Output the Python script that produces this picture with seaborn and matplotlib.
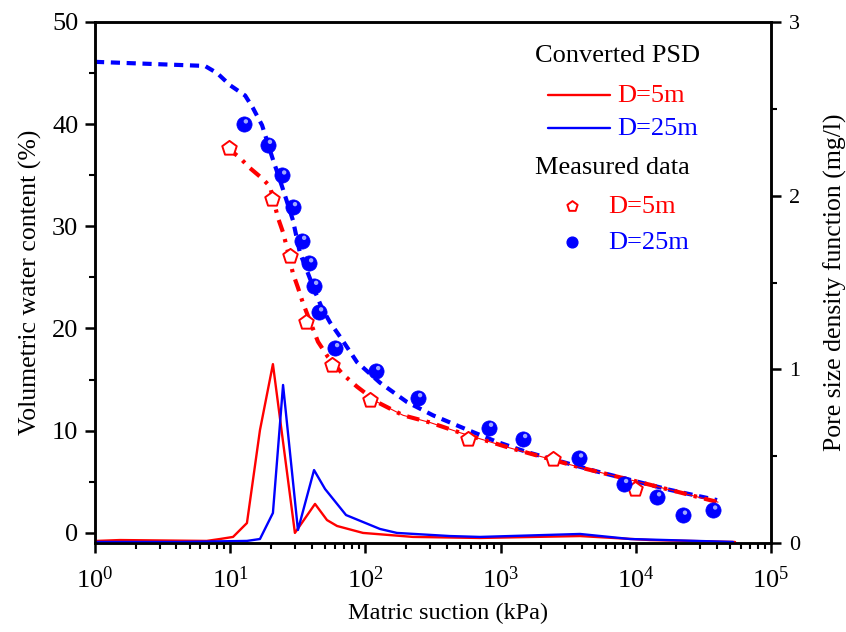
import numpy as np
import pandas as pd
import matplotlib
matplotlib.use("Agg")
import matplotlib.pyplot as plt
import matplotlib.transforms as mtransforms
from matplotlib.ticker import MultipleLocator, LogLocator, LogFormatterMathtext, NullFormatter
import seaborn as sns

# Measured soil-water characteristic data (suction in kPa, water content in %)
meas5_suction = [9.8, 20.4, 27.7, 36.3, 56.6, 108, 574, 2443, 9860]
meas5_wc = [37.7, 32.7, 27.1, 20.6, 16.4, 13.0, 9.2, 7.2, 4.3]

meas25_suction = [12.6, 19.0, 24.2, 29.1, 34.0, 38.3, 41.7, 45.4, 59.6, 120,
                  245, 820, 1466, 3800, 8180, 14350, 22300, 37300]
meas25_wc = [40.0, 38.0, 35.0, 31.9, 28.6, 26.4, 24.2, 21.6, 18.1, 15.85,
             13.2, 10.3, 9.2, 7.3, 4.8, 3.5, 1.7, 2.2]

# Fitted SWCC curves
fit25_suction = [1.0, 6.5, 8.0, 10.0, 12.9, 14.7, 17.2, 20.4, 24.6, 29.1, 32.8,
                 37.6, 42.4, 47.7, 54.7, 64.9, 86.7, 128, 203, 316, 564, 940,
                 1567, 5160, 17900, 39900]
fit25_wc = [46.1, 45.7, 45.0, 43.8, 42.8, 41.6, 39.9, 36.8, 33.6, 30.6, 27.4,
            25.4, 23.6, 22.0, 20.6, 19.2, 16.7, 14.7, 12.8, 11.5, 10.1, 8.9,
            7.9, 6.0, 4.2, 3.2]

fit5_suction = [9.5, 11.8, 14.0, 17.2, 19.7, 20.4, 22.6, 24.6, 26.3, 29.1, 31.7,
                34.5, 40.3, 44.6, 52.9, 68.3, 86.7, 122, 190, 300, 501, 1175,
                3866, 12740, 40550]
fit5_wc = [37.7, 36.7, 35.7, 34.7, 33.9, 33.1, 30.8, 29.4, 27.9, 25.4, 24.0,
           22.5, 20.2, 18.7, 17.2, 15.5, 14.3, 12.8, 11.5, 10.8, 9.8, 8.3,
           6.4, 4.7, 3.0]

# Converted pore size density functions (mg/l)
psd5_suction = [1.03, 1.53, 6.7, 8.4, 10.5, 13.3, 16.6, 20.7, 30.1, 42.4, 52,
                61.7, 96, 225, 704, 3866, 12740, 54200]
psd5_val = [0.012, 0.017, 0.012, 0.023, 0.035, 0.115, 0.65, 1.03, 0.058, 0.225,
            0.132, 0.098, 0.058, 0.035, 0.029, 0.040, 0.017, 0.006]

psd25_suction = [1.03, 4.25, 13.3, 16.6, 20.7, 24.6, 31.7, 41.7, 50.3, 71.9,
                 128, 171, 423, 704, 3866, 9060, 52400]
psd25_val = [0.006, 0.006, 0.012, 0.023, 0.173, 0.91, 0.075, 0.42, 0.311, 0.161,
             0.081, 0.058, 0.040, 0.035, 0.052, 0.023, 0.006]

RED = "#ff0000"
BLUE = "#0000ff"

sns.set_style("ticks")
plt.rcParams["font.family"] = ["Liberation Serif", "DejaVu Serif"]
plt.rcParams["mathtext.fontset"] = "stix"
plt.rcParams["axes.linewidth"] = 1.8
for key in ("text.color", "axes.labelcolor", "axes.edgecolor",
            "xtick.color", "ytick.color"):
    plt.rcParams[key] = "black"

fig = plt.figure(figsize=(8.46, 6.32), dpi=100)
ax = fig.add_axes([95 / 846, 1 - 543 / 632, 676 / 846, 521 / 632])
ax2 = ax.twinx()

# Pore size density curves on the right axis
sns.lineplot(x=psd5_suction, y=psd5_val, ax=ax2, color=RED, lw=1.7,
             sort=False, estimator=None)
sns.lineplot(x=psd25_suction, y=psd25_val, ax=ax2, color=BLUE, lw=1.7,
             sort=False, estimator=None)

# Fitted curves on the left axis
sns.lineplot(x=fit25_suction, y=fit25_wc, ax=ax, color=BLUE, lw=3.0,
             sort=False, estimator=None, linestyle=(0, (2.2, 1.6)))
sns.lineplot(x=fit5_suction, y=fit5_wc, ax=ax, color=RED, lw=3.0,
             sort=False, estimator=None, linestyle=(0, (3.0, 1.8, 0.8, 1.8)))
tail = [i for i, s in enumerate(fit5_suction) if s >= 100]
ax.plot([fit5_suction[i] for i in tail], [fit5_wc[i] for i in tail],
        color=RED, lw=0.8)

# Measured points
sns.scatterplot(x=meas5_suction, y=meas5_wc, ax=ax, marker="p", s=120,
                facecolor="white", edgecolor=RED, linewidth=1.4, zorder=4)
sns.scatterplot(x=meas25_suction, y=meas25_wc, ax=ax, marker="o", s=120,
                color=BLUE, edgecolor=BLUE, linewidth=0.5, zorder=4)
hl = mtransforms.offset_copy(ax.transData, fig=fig, x=1.5, y=2.0, units="points")
ax.scatter(meas25_suction, meas25_wc, marker="o", s=10, color="#9fa8ff",
           edgecolor="none", zorder=5, transform=hl)

ax.set_xscale("log")
ax.set_xlim(1, 1e5)
ax.set_ylim(-1, 50)
ax2.set_ylim(0, 3)
ax.xaxis.set_major_locator(LogLocator(base=10, numticks=10))
ax.xaxis.set_major_formatter(LogFormatterMathtext())
ax.xaxis.set_minor_locator(LogLocator(base=10, subs=np.arange(2, 10), numticks=20))
ax.xaxis.set_minor_formatter(NullFormatter())
ax.yaxis.set_major_locator(MultipleLocator(10))
ax.yaxis.set_minor_locator(MultipleLocator(5))
ax2.yaxis.set_major_locator(MultipleLocator(1))
ax2.yaxis.set_minor_locator(MultipleLocator(0.5))

for a in (ax, ax2):
    a.tick_params(which="major", direction="out", length=7, width=1.8,
                  colors="black", pad=5)
    a.tick_params(which="minor", direction="out", length=4, width=1.5)
    for sp in a.spines.values():
        sp.set_visible(True)
        sp.set_linewidth(1.8)
        sp.set_color("black")
ax.tick_params(axis="both", which="major", labelsize=19)
ax.tick_params(axis="x", which="major", pad=10)
ax2.tick_params(axis="y", which="major", labelsize=16, pad=6)

ax.set_xlabel("Matric suction (kPa)", fontsize=17.5, labelpad=7)
ax.xaxis.label.set_x(0.522)
ax.set_ylabel("Volumetric water content (%)", fontsize=18.5, labelpad=7)
ax2.set_ylabel("Pore size density function (mg/l)", fontsize=18.5, labelpad=17)

# Legend built from text and marker handles
T = ax.transAxes
def axpos(px, py):
    return ((px - 95) / 676, (543 - py) / 521)

LFS = 19
ax.text(*axpos(535, 56), "Converted PSD", transform=T, fontsize=LFS,
        va="center", ha="left", color="black")
x0, y0 = axpos(548, 95)
x1, _ = axpos(610, 95)
ax.plot([x0, x1], [y0, y0], transform=T, color=RED, lw=1.7)
ax.text(*axpos(617, 96), "D=5m", transform=T, fontsize=LFS, va="center", color=RED)
x0, y0 = axpos(548, 128)
ax.plot([x0, x1], [y0, y0], transform=T, color=BLUE, lw=1.7)
ax.text(*axpos(617, 129), "D=25m", transform=T, fontsize=LFS, va="center", color=BLUE)
ax.text(*axpos(535, 168), "Measured data", transform=T, fontsize=LFS,
        va="center", ha="left", color="black")
mx, my = axpos(572, 206)
ax.scatter([mx], [my], transform=T, marker="p", s=60, facecolor="white",
           edgecolor=RED, linewidth=1.4, zorder=5)
ax.text(*axpos(608, 207), "D=5m", transform=T, fontsize=LFS, va="center", color=RED)
mx, my = axpos(572, 242)
ax.scatter([mx], [my], transform=T, marker="o", s=60, color=BLUE, zorder=5)
ax.text(*axpos(608, 243), "D=25m", transform=T, fontsize=LFS, va="center", color=BLUE)

fig.savefig("out.png", dpi=100)
